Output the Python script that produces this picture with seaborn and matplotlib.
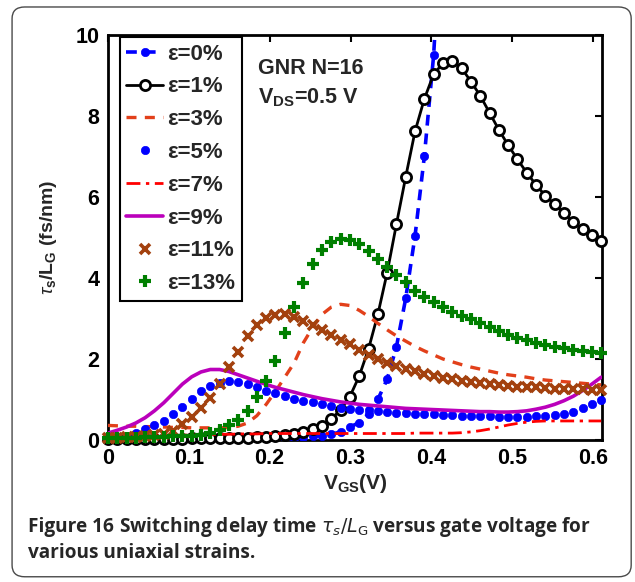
import numpy as np
import pandas as pd
import matplotlib
matplotlib.use('Agg')
import matplotlib.pyplot as plt
import seaborn as sns
from matplotlib.patches import FancyBboxPatch
from matplotlib.lines import Line2D

# ---------------- data ----------------
nan = np.nan
vgs = np.round(np.linspace(0, 0.61, 54), 4)

tau_e0 = [0.02, 0.02, 0.02, 0.02, 0.02, 0.02, 0.02, 0.03, 0.03, 0.03,
          0.03, 0.03, 0.03, 0.04, 0.04, 0.04, 0.04, 0.05, 0.05, 0.05,
          0.06, 0.07, 0.09, 0.11, 0.14, 0.20, 0.32, 0.43, 0.65, 1.00,
          1.50, 2.30, 3.50, 5.04, 7.00, 9.50, 13.5, nan, nan, nan,
          nan, nan, nan, nan, nan, nan, nan, nan, nan, nan,
          nan, nan, nan, nan]
tau_e1 = [0.03, 0.03, 0.03, 0.03, 0.03, 0.03, 0.03, 0.03, 0.03, 0.04,
          0.04, 0.04, 0.04, 0.05, 0.05, 0.06, 0.07, 0.08, 0.10, 0.12,
          0.15, 0.20, 0.27, 0.35, 0.52, 0.74, 1.07, 1.58, 2.25, 3.10,
          4.13, 5.33, 6.50, 7.62, 8.42, 9.03, 9.30, 9.35, 9.18, 8.85,
          8.50, 8.08, 7.66, 7.28, 6.93, 6.60, 6.30, 6.03, 5.82, 5.60,
          5.38, 5.20, 5.07, 4.92]
tau_e3 = [0.36, 0.35, 0.34, 0.34, 0.33, 0.33, 0.32, 0.31, 0.31, 0.30,
          0.30, 0.30, 0.30, 0.31, 0.34, 0.42, 0.60, 0.88, 1.20, 1.55,
          1.90, 2.40, 2.78, 3.10, 3.28, 3.35, 3.32, 3.20, 3.05, 2.88,
          2.72, 2.57, 2.44, 2.31, 2.20, 2.10, 2.00, 1.93, 1.86, 1.80,
          1.75, 1.70, 1.65, 1.61, 1.58, 1.55, 1.51, 1.48, 1.46, 1.44,
          1.42, 1.40, 1.38, 1.36]
tau_e5 = [0.05, 0.07, 0.10, 0.18, 0.28, 0.37, 0.48, 0.64, 0.82, 1.02,
          1.20, 1.33, 1.41, 1.45, 1.44, 1.39, 1.31, 1.22, 1.15, 1.08,
          1.02, 0.97, 0.93, 0.88, 0.83, 0.80, 0.77, 0.75, 0.73, 0.71,
          0.69, 0.67, 0.66, 0.65, 0.64, 0.63, 0.62, 0.61, 0.60, 0.59,
          0.58, 0.58, 0.57, 0.57, 0.57, 0.57, 0.58, 0.59, 0.61, 0.64,
          0.70, 0.78, 0.90, 0.98]
tau_e7 = [0.08, 0.08, 0.09, 0.09, 0.10, 0.10, 0.11, 0.11, 0.12, 0.12,
          0.13, 0.13, 0.14, 0.14, 0.15, 0.15, 0.15, 0.16, 0.16, 0.16,
          0.16, 0.16, 0.16, 0.16, 0.16, 0.16, 0.16, 0.16, 0.16, 0.16,
          0.16, 0.16, 0.16, 0.17, 0.17, 0.17, 0.17, 0.17, 0.18, 0.20,
          0.23, 0.27, 0.32, 0.37, 0.41, 0.44, 0.46, 0.47, 0.47, 0.47,
          0.47, 0.47, 0.47, 0.47]
tau_e9 = [0.17, 0.24, 0.32, 0.42, 0.55, 0.72, 0.92, 1.15, 1.38, 1.56,
          1.68, 1.74, 1.74, 1.69, 1.61, 1.53, 1.45, 1.37, 1.30, 1.24,
          1.18, 1.12, 1.07, 1.02, 0.98, 0.94, 0.91, 0.88, 0.86, 0.84,
          0.82, 0.80, 0.78, 0.77, 0.76, 0.75, 0.74, 0.73, 0.72, 0.71,
          0.70, 0.70, 0.69, 0.69, 0.70, 0.72, 0.76, 0.81, 0.88, 0.97,
          1.08, 1.22, 1.38, 1.55]
tau_e11 = [0.05, 0.06, 0.07, 0.08, 0.10, 0.12, 0.16, 0.22, 0.40, 0.57,
           0.78, 1.03, 1.38, 1.80, 2.18, 2.57, 2.85, 3.00, 3.09, 3.10,
           3.04, 2.94, 2.83, 2.71, 2.60, 2.48, 2.37, 2.22, 2.10, 1.99,
           1.90, 1.83, 1.76, 1.70, 1.64, 1.59, 1.54, 1.50, 1.46, 1.43,
           1.40, 1.37, 1.35, 1.33, 1.32, 1.31, 1.30, 1.29, 1.27, 1.26,
           1.25, 1.25, 1.24, 1.24]
tau_e13 = [0.05, 0.05, 0.06, 0.06, 0.07, 0.07, 0.08, 0.09, 0.10, 0.11,
           0.13, 0.17, 0.24, 0.37, 0.50, 0.72, 1.05, 1.45, 1.95, 2.65,
           3.28, 3.88, 4.35, 4.70, 4.90, 4.97, 4.93, 4.83, 4.66, 4.48,
           4.28, 4.08, 3.90, 3.68, 3.52, 3.40, 3.28, 3.17, 3.07, 2.98,
           2.88, 2.78, 2.68, 2.60, 2.53, 2.46, 2.40, 2.35, 2.30, 2.26,
           2.22, 2.19, 2.17, 2.15]

x_ticks = [0, 0.1, 0.2, 0.3, 0.4, 0.5, 0.6]
x_ticklabels = ['0', '0.1', '0.2', '0.3', '0.4', '0.5', '0.6']
y_ticks = [0, 2, 4, 6, 8, 10]
y_ticklabels = ['0', '2', '4', '6', '8', '10']

# ---------------- style ----------------
sns.set_theme(style='white')
plt.rcParams['font.family'] = ['Liberation Sans', 'DejaVu Sans']
plt.rcParams['mathtext.fontset'] = 'custom'
plt.rcParams['mathtext.rm'] = 'Liberation Sans:bold'
plt.rcParams['mathtext.bf'] = 'Liberation Sans:bold'
plt.rcParams['mathtext.it'] = 'Liberation Sans:italic'

fig = plt.figure(figsize=(6.35, 5.82), dpi=100)
fig.patch.set_facecolor('white')
border = FancyBboxPatch((0.019, 0.009), 0.975, 0.979, transform=fig.transFigure,
                        boxstyle='round,pad=0,rounding_size=0.02',
                        facecolor='none', edgecolor='#4a4a4a', linewidth=1.0,
                        zorder=-5)
fig.patches.append(border)

ax = fig.add_axes([0.170, 0.244, 0.778, 0.696])
ax.set_facecolor('white')

series = [
    dict(y=tau_e0, label='ε=0%', color='#0000ff', linestyle=(0, (3, 2.2)), lw=2.6,
         marker='o', ms=6.0, mfc='#0000ff', mec='#0000ff', mew=0.5, clip=True),
    dict(y=tau_e1, label='ε=1%', color='black', linestyle='-', lw=2.0,
         marker='o', ms=7.3, mfc='white', mec='black', mew=2.0, clip=False),
    dict(y=tau_e3, label='ε=3%', color='#e2401a', linestyle=(0, (3, 2.5)), lw=2.4,
         marker='None', ms=0, mfc='none', mec='none', mew=0, clip=True),
    dict(y=tau_e5, label='ε=5%', color='#0000ff', linestyle='None', lw=0,
         marker='o', ms=6.0, mfc='#0000ff', mec='#0000ff', mew=0.5, clip=False),
    dict(y=tau_e7, label='ε=7%', color='#ff0000', linestyle=(0, (5, 2, 1.2, 2)), lw=2.0,
         marker='None', ms=0, mfc='none', mec='none', mew=0, clip=True),
    dict(y=tau_e9, label='ε=9%', color='#bb00bb', linestyle='-', lw=2.6,
         marker='None', ms=0, mfc='none', mec='none', mew=0, clip=True),
    dict(y=tau_e11, label='ε=11%', color='#a3410e', linestyle='None', lw=0,
         marker='x', ms=6.5, mfc='#a3410e', mec='#a3410e', mew=2.6, clip=False),
    dict(y=tau_e13, label='ε=13%', color='#007f00', linestyle='None', lw=0,
         marker='+', ms=9.0, mfc='#007f00', mec='#007f00', mew=3.0, clip=False),
]

order = [2, 4, 5, 3, 6, 7, 0, 1]
for k in order:
    s = series[k]
    df = pd.DataFrame({'VGS': vgs, 'tau': s['y']}).dropna()
    sns.lineplot(data=df, x='VGS', y='tau', ax=ax,
                 color=s['color'], linestyle=s['linestyle'], linewidth=s['lw'],
                 marker=s['marker'], markersize=s['ms'],
                 markerfacecolor=s['mfc'], markeredgecolor=s['mec'],
                 markeredgewidth=s['mew'], clip_on=s['clip'], zorder=3 + k * 0.1,
                 legend=False)

ax.set_xlim(0, 0.611)
ax.set_ylim(0, 10)
ax.set_xticks(x_ticks)
ax.set_xticklabels(x_ticklabels)
ax.set_yticks(y_ticks)
ax.set_yticklabels(y_ticklabels)
ax.tick_params(axis='both', which='both', direction='in', length=5, width=1.5,
               top=True, right=True, labelsize=15.5, pad=6, colors='black')
for lab in ax.get_xticklabels() + ax.get_yticklabels():
    lab.set_fontweight('bold')
for sp in ax.spines.values():
    sp.set_visible(True)
    sp.set_color('black')
    sp.set_linewidth(2.0)

ax.set_xlabel(r'$\mathbf{V_{GS}}$(V)', fontsize=15, fontweight='bold', labelpad=2)
ax.set_ylabel(r'$\mathit{\tau}_{\mathbf{s}}$/L$_{\mathbf{G}}$ (fs/nm)', fontsize=14,
              fontweight='bold', labelpad=12)

# legend
handles = []
for s in series:
    handles.append(Line2D([], [], color=s['color'], linestyle=s['linestyle'],
                          linewidth=s['lw'], marker=s['marker'], markersize=s['ms'],
                          markerfacecolor=s['mfc'], markeredgecolor=s['mec'],
                          markeredgewidth=s['mew']))
leg = ax.legend(handles, [s['label'] for s in series], loc='upper left',
                bbox_to_anchor=(0.024, 0.995), borderaxespad=0, frameon=True,
                fancybox=False, edgecolor='black', framealpha=1,
                prop={'family': 'Liberation Sans', 'weight': 'bold', 'size': 16},
                handlelength=1.65, handletextpad=0.2, labelspacing=0.53,
                borderpad=0.3, numpoints=1)
leg.get_frame().set_linewidth(1.5)
leg.set_zorder(10)

ax.text(0.304, 0.918, 'GNR N=16', transform=ax.transAxes, fontsize=15.5,
        fontweight='bold', va='center', ha='left')
ax.text(0.304, 0.845, r'V$_{\mathbf{DS}}$=0.5 V', transform=ax.transAxes, fontsize=15.5,
        fontweight='bold', va='center', ha='left')

# caption
fig.canvas.draw()
r = fig.canvas.get_renderer()
cap_font = ['Open Sans', 'DejaVu Sans']
cap_size = 13.7
t1 = fig.text(0.044, 0.086, 'Figure 16', fontsize=cap_size, fontweight='bold',
              family=cap_font, va='baseline', ha='left')
bb = t1.get_window_extent(renderer=r)
x1 = bb.x1 / fig.bbox.width
fig.text(x1 + 0.008, 0.086,
         r'Switching delay time $\tau_s/L_\mathrm{G}$ versus gate voltage for',
         fontsize=cap_size, fontweight='bold', family=cap_font, va='baseline', ha='left',
         math_fontfamily='dejavusans')
fig.text(0.044, 0.041, 'various uniaxial strains.', fontsize=cap_size, fontweight='bold',
         family=cap_font, va='baseline', ha='left')

fig.savefig('out.png', dpi=100, facecolor='white')
